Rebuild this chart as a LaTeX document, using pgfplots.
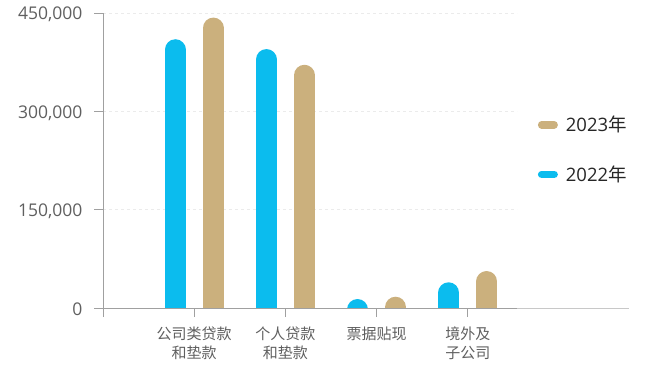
\documentclass[border=0pt]{standalone}
\usepackage{pgfplots}
\pgfplotsset{compat=1.18}
\usepackage{fontspec}
\setmainfont{Open Sans}
\newfontfamily\cjk{Noto Sans CJK SC}
\definecolor{cyanbar}{RGB}{11,188,238}
\definecolor{tanbar}{RGB}{203,176,125}
\definecolor{axisgray}{RGB}{160,160,160}
\definecolor{lightaxis}{RGB}{200,200,200}
\definecolor{labelgray}{RGB}{95,95,95}
\definecolor{gridgray}{RGB}{235,235,235}
\begin{document}
\begin{tikzpicture}
\useasboundingbox (0,0) rectangle (645pt,364pt);
\begin{axis}[
  name=ax,
  at={(103pt,56pt)}, anchor=south west,
  scale only axis, width=414pt, height=295pt,
  xmin=-1, xmax=3.54, ymin=0, ymax=450000,
  axis lines*=left,
  axis line style={axisgray, line width=0.9pt},
  tick align=outside,
  major tick length=9pt,
  tick style={axisgray, line width=0.9pt},
  xtick={-1,0,1,2,3},
  xticklabels={{}, {公司类贷款\\和垫款}, {个人贷款\\和垫款}, {票据贴现}, {境外及\\子公司}},
  xticklabel style={align=center, font=\cjk\fontsize{15}{19}\selectfont, text=labelgray, yshift=-6pt},
  ytick={0,150000,300000,450000},
  scaled y ticks=false,
  /pgf/number format/.cd, fixed, 1000 sep={,}, assume math mode=true,
  /pgfplots/.cd,
  yticklabel style={font=\fontsize{17.5}{20}\selectfont, text=labelgray, xshift=-8pt, yshift=-1.5pt},
  ymajorgrids,
  grid style={gridgray, dashed, line width=0.8pt},
  clip=true,
  legend style={at={(1.05,0.537)}, anchor=west, draw=none, fill=none,
    font=\fontsize{18.5}{21}\selectfont, text=black!85, row sep=28.5pt, inner sep=0pt,
    /tikz/every odd column/.append style={column sep=6pt}},
  legend cell align=left,
]
\addlegendimage{legend image code/.code={\draw[tanbar, line width=7.5pt, line cap=round] (3.75pt,0) -- (16.25pt,0);}}
\addlegendentry{2023{\cjk 年}}
\addlegendimage{legend image code/.code={\draw[cyanbar, line width=7.5pt, line cap=round] (3.75pt,0) -- (16.25pt,0);}}
\addlegendentry{2022{\cjk 年}}
\addplot[forget plot, ycomb, draw=cyanbar, line width=21pt, line cap=round, mark=none, xshift=-19pt, yshift=-10.5pt]
  coordinates {(0,410000) (1,395000) (2,13700) (3,39200)};
\addplot[forget plot, ycomb, draw=tanbar, line width=21pt, line cap=round, mark=none, xshift=19pt, yshift=-10.5pt]
  coordinates {(0,443000) (1,371000) (2,17200) (3,56400)};
\end{axis}
\draw[lightaxis, line width=0.9pt] (ax.south east) -- ++(112pt,0);
\end{tikzpicture}
\end{document}
